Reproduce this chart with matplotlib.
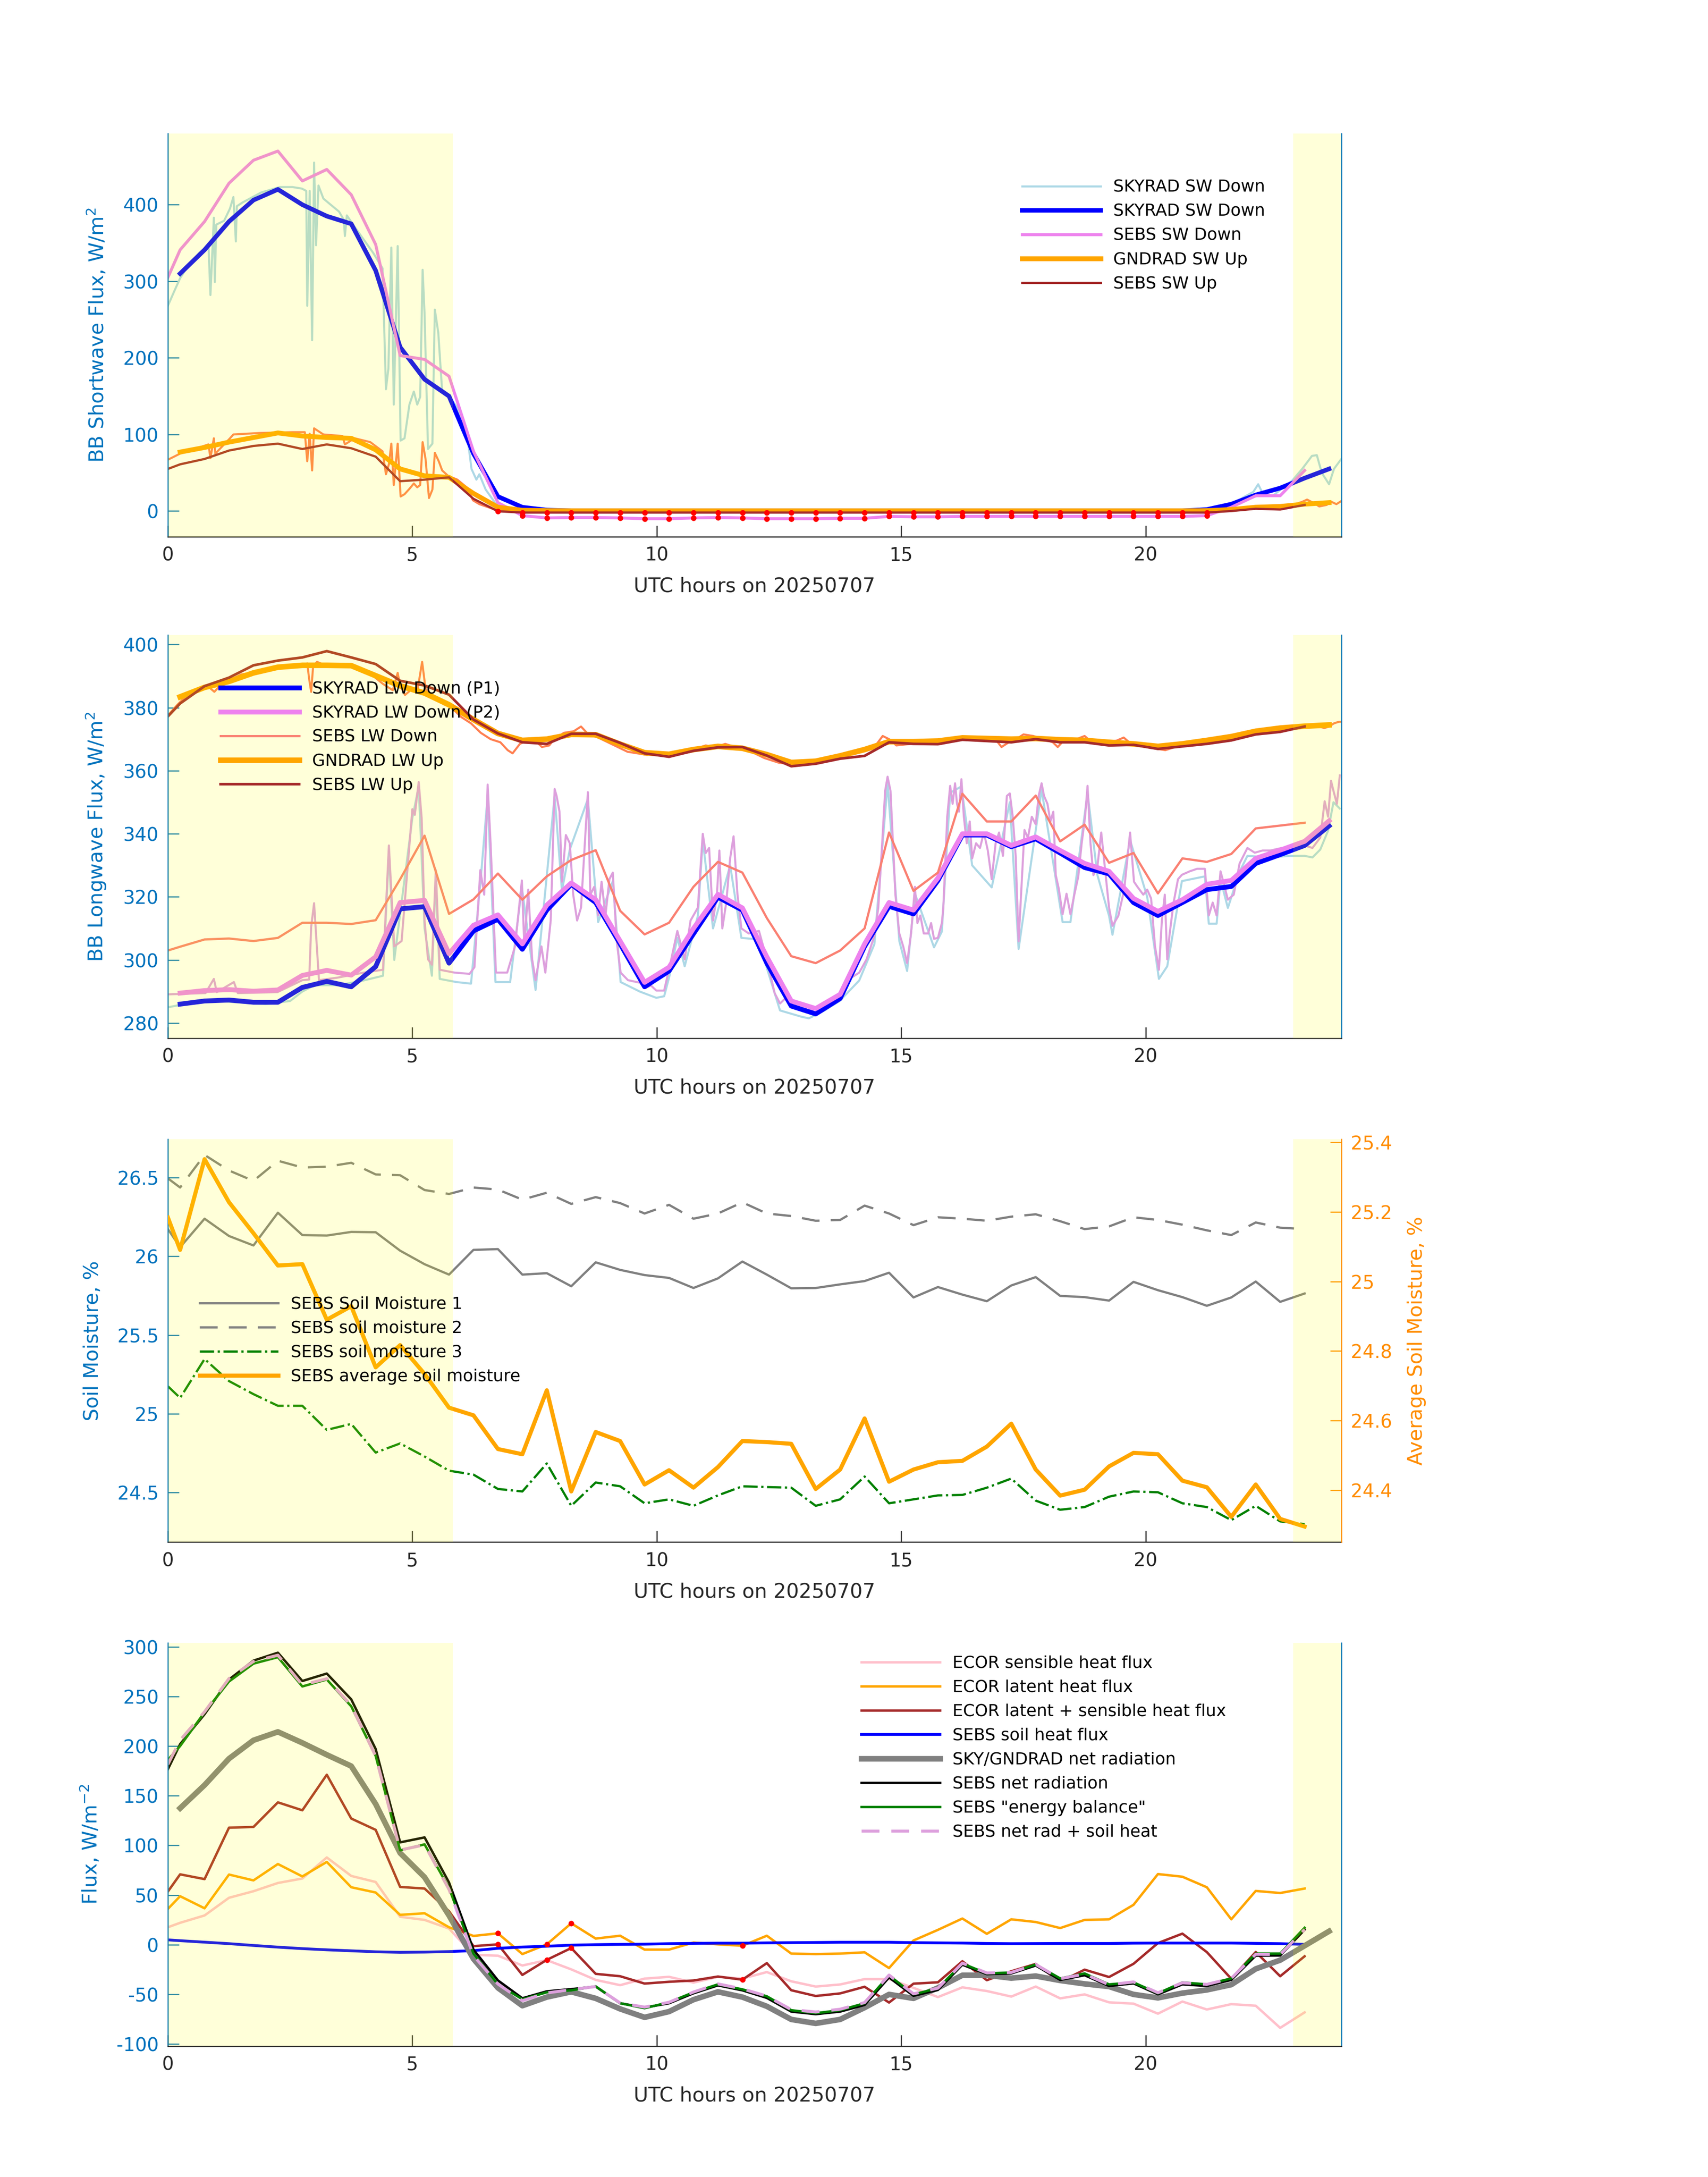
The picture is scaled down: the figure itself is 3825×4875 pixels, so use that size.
import numpy as np
import matplotlib
matplotlib.use('Agg')
from matplotlib import pyplot as plt
from matplotlib.ticker import FuncFormatter

plt.rcParams['font.family'] = ['DejaVu Sans']

blue_c = '#0072BD'
axis_orange = '#FF8C00'
text_c = '#262626'

# half-hour time grids (UTC hours)
sky_t = np.arange(0.25, 24.0, 0.5)                             # SKYRAD / GNDRAD averages
sebs_t = np.concatenate(([0.0], np.arange(0.25, 23.5, 0.5)))  # SEBS / ECOR

# daylight shading
day_spans = [(0.0, 5.83), (23.02, 24.0)]

# ---------------- panel 1: shortwave ----------------
sky_sw_dn = [310, 341, 378, 406, 420, 400, 385, 375, 314, 214, 172, 150,
             75, 19, 5, 1.3, 0.3, 0.3, 0.3, 0.3, 0.3, 0.3, 0.3, 0.3,
             0.3, 0.3, 0.3, 0.3, 0.3, 0.3, 0.3, 0.3, 0.3, 0.3, 0.3, 0.3,
             0.3, 0.3, 0.3, 0.3, 0.3, 0.3, 2, 9, 21, 30, 43, 55]
gnd_sw_up = [77, 83, 90, 96, 102, 98, 96, 95, 80, 55, 46, 44,
             23, 5, 1, 0.5, 0.3, 0.3, 0.3, 0.3, 0.3, 0.3, 0.3, 0.3,
             0.3, 0.3, 0.3, 0.3, 0.3, 0.3, 0.3, 0.3, 0.3, 0.3, 0.3, 0.3,
             0.3, 0.3, 0.3, 0.3, 0.3, 0.3, 0.5, 2, 5, 6, 9, 11]
sebs_sw_dn = [305, 341, 378, 428, 458, 470, 431, 446, 413, 348, 203, 198, 176,
              78, 11, -6, -9, -8.5, -8.5, -9, -10, -10, -9, -8.5, -9,
              -10, -10, -10, -9.5, -9.5, -7, -7.5, -7.5, -7, -7, -7, -7,
              -7, -7, -7, -7, -7, -7, -6, 5, 20, 20, 53]
sebs_sw_up = [55, 61, 68, 79, 85, 88, 81, 87, 82, 71, 39, 41, 44,
              16, -0.3, -2, -2, -2, -2, -2, -2, -2, -2, -2, -2,
              -2, -2, -2, -2, -2, -2, -2, -2, -2, -2, -2, -2,
              -2, -2, -2, -2, -2, -2, -2, 0, 3, 2, 8]

# one-minute-ish SKYRAD SW down and GNDRAD SW up
sw_dn_hr_t = [0.00, 0.13, 0.25, 0.38, 0.64, 0.83, 0.87, 0.94, 0.96, 0.99, 1.15, 1.27, 1.34, 1.39,
              1.41, 1.53, 1.91, 2.29, 2.55, 2.74, 2.83, 2.85, 2.90, 2.95, 2.99, 3.03, 3.08, 3.18,
              3.31, 3.50, 3.60, 3.62, 3.66, 3.82, 4.01, 4.20, 4.39, 4.46, 4.51, 4.57, 4.62, 4.70,
              4.76, 4.84, 4.94, 5.03, 5.10, 5.16, 5.21, 5.25, 5.32, 5.41, 5.46, 5.53, 5.61, 5.73,
              5.92, 6.11, 6.21, 6.31, 6.37, 6.50, 6.69, 7.01, 7.32, 7.60, 21.20, 21.50, 21.80,
              22.00, 22.20, 22.30, 22.40, 22.60, 22.80, 23.00, 23.20, 23.40, 23.50, 23.60, 23.75,
              23.85, 24.00]
sw_dn_hr = [268, 287, 304, 317, 337, 347, 282, 383, 299, 374, 379, 395, 410, 352,
            398, 403, 416, 423, 423, 421, 418, 268, 418, 223, 455, 347, 425, 408,
            401, 391, 380, 359, 386, 371, 354, 337, 317, 159, 186, 344, 139, 346,
            92, 95, 139, 156, 139, 149, 315, 257, 81, 88, 263, 233, 156, 152,
            135, 105, 55, 41, 48, 28, 11, 4, 1, 0, 0, 3, 10,
            18, 25, 35, 22, 20, 30, 40, 55, 72, 73, 50, 35,
            55, 68]
sw_up_hr_t = [0.00, 0.25, 0.64, 0.83, 0.87, 0.94, 0.97, 1.27, 1.34, 1.90, 2.55, 2.80, 2.85, 2.90,
              2.95, 2.99, 3.18, 3.57, 3.62, 3.82, 4.14, 4.39, 4.46, 4.52, 4.57, 4.62, 4.70, 4.76,
              4.84, 4.94, 5.03, 5.10, 5.16, 5.21, 5.27, 5.34, 5.41, 5.46, 5.54, 5.61, 5.73, 5.92,
              6.11, 6.24, 6.37, 6.69, 7.00, 21.50, 22.00, 22.50, 23.00, 23.20, 23.30, 23.45,
              23.55, 23.70, 23.80, 23.90, 24.00]
sw_up_hr = [67, 75, 83, 87, 69, 95, 75, 95, 100, 102, 103, 103, 65, 101,
            53, 108, 100, 98, 87, 95, 90, 78, 48, 61, 88, 34, 88, 19,
            22, 29, 36, 31, 34, 90, 68, 17, 28, 76, 65, 53, 46, 41,
            31, 14, 9, 2, 0.5, 0.5, 3, 6, 8, 12, 15, 10,
            6, 8, 12, 9, 13]

# ---------------- panel 2: longwave ----------------
sky_lw_p1 = [286.0, 287.0, 287.3, 286.6, 286.6, 291.3, 293.2, 291.5, 297.9, 316.2, 316.9, 299.0,
             309.2, 312.9, 303.4, 315.8, 324.0, 318.2, 305.1, 291.5, 296.5, 308.3, 319.9, 315.8,
             299.0, 285.4, 282.9, 287.8, 304.3, 317.0, 314.6, 325.2, 339.6, 339.6, 335.9, 338.4,
             333.9, 329.3, 327.3, 318.2, 314.1, 318.2, 322.3, 323.3, 330.6, 333.4, 336.3, 342.5]
sky_lw_p2 = [289.5, 290.3, 290.6, 290.1, 290.5, 295.1, 296.7, 295.2, 301.0, 318.2, 318.9, 302.0,
             311.0, 314.3, 305.1, 317.4, 324.4, 319.1, 306.0, 292.9, 297.7, 310.0, 320.8, 316.5,
             301.0, 287.0, 284.6, 289.1, 305.1, 318.2, 315.8, 326.0, 340.0, 340.0, 336.3, 339.0,
             334.7, 330.6, 328.1, 319.5, 315.4, 319.1, 324.0, 325.2, 332.2, 334.8, 337.6, 344.1]
gnd_lw_up = [383.4, 386.4, 388.3, 391.0, 392.8, 393.4, 393.4, 393.3, 390.1, 386.9, 384.6, 380.9,
             376.2, 371.8, 369.6, 370.0, 371.5, 371.4, 368.4, 365.7, 365.2, 366.7, 367.7, 367.1,
             365.1, 362.6, 363.0, 364.7, 366.7, 369.2, 369.2, 369.4, 370.4, 370.2, 370.0, 370.2,
             369.8, 369.6, 369.0, 368.5, 367.7, 368.5, 369.6, 370.8, 372.5, 373.5, 374.1, 374.5]
sebs_lw_dn = [303.0, 304.2, 306.5, 306.8, 306.0, 307.0, 311.8, 311.8, 311.4, 312.6, 325.6, 339.4, 314.6,
              319.2, 327.4, 319.1, 326.5, 331.7, 334.8, 315.6, 308.1, 311.8, 323.2, 331.1, 327.7,
              313.3, 301.2, 299.0, 303.0, 310.0, 340.4, 321.9, 327.7, 352.7, 343.9, 343.9, 352.1,
              337.6, 342.9, 330.8, 333.9, 321.1, 332.2, 331.1, 333.6, 341.7, 342.6, 343.5]
sebs_lw_up = [377.2, 381.3, 386.8, 389.5, 393.4, 394.9, 395.9, 397.9, 395.9, 393.8, 388.5, 387.0, 384.1,
              376.2, 371.8, 369.0, 368.5, 371.7, 371.7, 368.8, 365.5, 364.4, 366.3, 367.4, 367.5,
              364.8, 361.4, 362.2, 363.8, 364.7, 369.0, 368.5, 368.4, 369.8, 369.4, 369.0, 370.0,
              369.0, 369.0, 368.0, 368.2, 366.9, 367.7, 368.5, 369.6, 371.5, 372.3, 374.0]

# one-minute-ish SKYRAD LW down P2 (plum) as (hour, value)
lw_p2_hr = [(0.00, 289.1), (0.77, 289.5), (0.94, 294.0), (1.00, 289.8), (1.35, 293.0), (1.43, 289.5),
            (2.24, 289.8), (2.75, 293.6), (2.89, 293.8), (2.93, 310.4), (2.99, 318.0), (3.09, 293.6),
            (3.47, 294.4), (4.01, 296.0), (4.40, 296.9), (4.52, 336.3), (4.63, 304.3), (4.78, 306.0),
            (5.00, 347.8), (5.05, 346.0), (5.13, 356.4), (5.19, 345.0), (5.25, 312.5), (5.32, 300.2),
            (5.40, 298.5), (5.48, 328.5), (5.56, 296.9), (5.86, 296.0), (6.17, 295.6), (6.27, 297.7),
            (6.39, 328.5), (6.47, 320.7), (6.54, 355.6), (6.60, 337.0), (6.71, 296.0), (6.94, 296.0),
            (7.10, 304.3), (7.24, 325.2), (7.29, 304.3), (7.37, 322.3), (7.45, 300.2), (7.52, 293.6),
            (7.64, 304.3), (7.72, 296.0), (7.83, 312.5), (7.91, 354.2), (7.95, 352.0), (8.01, 347.0),
            (8.06, 324.8), (8.14, 339.6), (8.22, 337.0), (8.29, 320.7), (8.37, 312.5), (8.45, 316.6),
            (8.59, 353.2), (8.64, 320.7), (8.72, 323.2), (8.80, 314.1), (8.87, 324.8), (8.95, 314.1),
            (9.03, 325.6), (9.10, 327.7), (9.18, 305.9), (9.26, 296.0), (9.41, 293.6), (9.65, 292.8),
            (9.76, 291.1), (9.88, 291.9), (9.99, 290.3), (10.15, 290.3), (10.26, 297.7), (10.42, 309.2),
            (10.57, 300.2), (10.69, 312.5), (10.84, 316.6), (10.94, 340.0), (11.00, 333.9), (11.07, 335.5),
            (11.15, 312.5), (11.23, 320.7), (11.28, 334.7), (11.34, 310.0), (11.42, 318.2), (11.50, 332.2),
            (11.57, 339.2), (11.65, 320.7), (11.73, 310.0), (11.88, 308.4), (12.09, 309.2), (12.25, 300.2),
            (12.41, 289.5), (12.52, 286.2), (12.64, 288.0), (12.80, 286.2), (12.96, 284.1), (13.11, 283.7),
            (13.27, 284.9), (13.43, 286.2), (13.58, 288.0), (13.74, 289.5), (13.90, 293.6), (14.14, 296.0),
            (14.29, 300.2), (14.45, 307.6), (14.53, 316.6), (14.61, 337.0), (14.67, 353.6), (14.72, 358.1),
            (14.78, 353.6), (14.83, 337.0), (14.88, 320.7), (14.96, 308.4), (15.04, 304.3), (15.12, 299.0),
            (15.20, 308.4), (15.28, 323.2), (15.33, 311.7), (15.39, 314.1), (15.46, 308.4), (15.55, 308.4),
            (15.61, 311.7), (15.67, 306.7), (15.75, 307.0), (15.83, 311.7), (15.86, 316.6), (15.94, 345.4),
            (16.00, 355.2), (16.05, 349.5), (16.10, 356.0), (16.14, 349.5), (16.18, 347.0), (16.23, 357.3),
            (16.28, 345.4), (16.34, 337.0), (16.40, 343.9), (16.45, 332.2), (16.53, 337.0), (16.61, 335.5),
            (16.69, 340.4), (16.77, 334.7), (16.85, 325.6), (16.93, 337.0), (17.00, 340.4), (17.08, 333.0),
            (17.16, 352.0), (17.22, 352.8), (17.28, 345.4), (17.34, 333.0), (17.40, 305.9), (17.45, 320.7),
            (17.52, 341.2), (17.59, 338.7), (17.67, 345.4), (17.75, 343.0), (17.81, 352.0), (17.87, 356.0),
            (17.92, 352.0), (17.99, 349.5), (18.05, 343.9), (18.11, 347.0), (18.16, 326.9), (18.22, 322.7),
            (18.30, 314.5), (18.38, 321.0), (18.46, 314.5), (18.54, 320.7), (18.62, 326.4), (18.69, 337.0),
            (18.76, 345.4), (18.81, 355.2), (18.87, 337.0), (18.93, 326.9), (19.01, 329.4), (19.09, 340.4),
            (19.17, 328.5), (19.25, 316.6), (19.32, 310.8), (19.44, 314.0), (19.56, 322.3), (19.68, 340.4),
            (19.76, 324.8), (19.83, 323.2), (19.95, 320.7), (20.03, 322.3), (20.11, 319.5), (20.19, 304.3),
            (20.27, 296.9), (20.33, 312.5), (20.39, 320.7), (20.44, 300.2), (20.49, 308.4), (20.57, 318.2),
            (20.66, 325.6), (20.74, 327.0), (20.90, 328.1), (21.05, 328.9), (21.21, 328.9), (21.29, 314.1),
            (21.37, 318.2), (21.45, 314.1), (21.53, 328.1), (21.60, 324.0), (21.68, 319.1), (21.80, 320.7),
            (21.92, 330.6), (22.08, 335.5), (22.23, 334.0), (22.39, 334.7), (22.55, 334.7), (22.78, 335.5),
            (22.94, 335.5), (23.10, 337.0), (23.25, 336.3), (23.41, 335.5), (23.57, 338.8), (23.66, 350.3),
            (23.73, 345.4), (23.79, 356.8), (23.84, 353.6), (23.91, 349.5), (23.97, 358.5)]

# one-minute-ish SKYRAD LW down P1 (light blue)
lw_p1_hr = [(0.00, 285.0), (0.50, 286.5), (1.00, 287.0), (1.50, 286.5), (2.00, 286.0), (2.50, 287.0),
            (2.75, 290.0), (3.00, 292.0), (3.50, 292.0), (4.00, 293.5), (4.40, 295.0), (4.52, 334.0),
            (4.63, 300.0), (5.00, 345.0), (5.13, 355.0), (5.25, 310.0), (5.40, 295.0), (5.48, 326.0),
            (5.56, 294.0), (5.90, 293.0), (6.20, 292.5), (6.40, 326.0), (6.54, 352.0), (6.70, 293.0),
            (7.00, 293.0), (7.24, 323.0), (7.52, 290.5), (7.91, 352.0), (8.06, 322.0), (8.22, 335.0),
            (8.59, 351.0), (8.80, 312.0), (9.10, 325.0), (9.26, 293.0), (9.65, 290.0), (9.99, 288.0),
            (10.15, 288.5), (10.26, 295.0), (10.42, 307.0), (10.57, 298.0), (10.84, 314.0), (10.94, 338.0),
            (11.15, 310.0), (11.50, 330.0), (11.73, 307.0), (12.09, 306.5), (12.25, 297.5), (12.52, 284.0),
            (12.96, 282.0), (13.11, 281.5), (13.43, 284.0), (13.74, 287.0), (14.14, 293.5), (14.45, 305.0),
            (14.72, 356.0), (14.96, 306.0), (15.12, 296.5), (15.28, 321.0), (15.67, 304.0), (15.83, 309.0),
            (16.00, 353.0), (16.23, 355.0), (16.45, 330.0), (16.85, 323.0), (17.22, 350.0), (17.40, 303.5),
            (17.87, 354.0), (18.30, 312.0), (18.46, 312.0), (18.81, 353.0), (19.01, 327.0), (19.25, 314.0),
            (19.32, 308.0), (19.68, 338.0), (20.03, 320.0), (20.27, 294.0), (20.44, 298.0), (20.74, 325.0),
            (21.21, 326.5), (21.29, 311.5), (21.45, 311.5), (21.53, 325.5), (21.68, 316.5), (21.92, 328.0),
            (22.08, 333.0), (22.55, 332.5), (22.94, 333.0), (23.25, 333.0), (23.41, 332.5), (23.57, 335.0),
            (23.73, 341.0), (23.84, 350.0), (23.97, 348.0)]

# one-minute-ish GNDRAD LW up (coral)
lw_up_hr = [(0.0, 377.5), (0.2, 381.0), (0.4, 384.0), (0.6, 385.5), (0.8, 387.0), (0.95, 385.0),
            (1.1, 387.5), (1.3, 389.0), (1.5, 390.5), (1.7, 391.0), (1.9, 392.0), (2.1, 392.5),
            (2.3, 392.5), (2.5, 393.5), (2.7, 393.0), (2.85, 394.0), (2.89, 389.0), (2.93, 385.0),
            (2.97, 393.0), (3.05, 394.5), (3.2, 393.5), (3.4, 393.0), (3.6, 393.5), (3.8, 393.0),
            (4.0, 392.0), (4.2, 390.0), (4.4, 387.5), (4.6, 385.5), (4.7, 391.0), (4.75, 387.0),
            (4.85, 384.0), (5.0, 386.0), (5.1, 385.0), (5.2, 394.5), (5.27, 386.0), (5.35, 384.0),
            (5.45, 383.0), (5.55, 382.5), (5.65, 381.0), (5.8, 380.0), (6.0, 377.0), (6.2, 375.0),
            (6.4, 372.0), (6.6, 370.0), (6.8, 369.0), (6.95, 366.5), (7.05, 365.5), (7.2, 368.5),
            (7.4, 370.0), (7.55, 369.0), (7.65, 367.5), (7.8, 368.0), (7.9, 370.0), (8.1, 372.0),
            (8.3, 372.5), (8.45, 374.0), (8.6, 371.5), (8.8, 370.5), (9.0, 369.0), (9.2, 367.5),
            (9.4, 366.0), (9.6, 365.5), (9.8, 365.0), (10.0, 365.5), (10.2, 365.0), (10.5, 365.5),
            (10.7, 366.5), (10.9, 367.5), (11.0, 368.0), (11.2, 367.5), (11.4, 368.5), (11.6, 367.5),
            (11.8, 366.5), (12.0, 365.5), (12.2, 364.0), (12.5, 362.5), (12.8, 362.0), (13.0, 362.5),
            (13.3, 363.0), (13.6, 364.5), (13.9, 365.5), (14.2, 366.0), (14.5, 368.5), (14.62, 371.0),
            (14.75, 370.0), (14.9, 368.0), (15.2, 368.5), (15.5, 369.0), (15.8, 369.5), (16.1, 370.0),
            (16.4, 370.5), (16.6, 370.0), (16.9, 370.5), (17.05, 367.5), (17.2, 369.0), (17.4, 370.5),
            (17.5, 371.5), (17.7, 371.0), (17.9, 370.0), (18.1, 369.0), (18.2, 367.5), (18.35, 370.0),
            (18.5, 369.5), (18.75, 371.0), (18.9, 369.0), (19.1, 369.0), (19.4, 369.5), (19.55, 370.5),
            (19.7, 368.5), (20.0, 367.5), (20.2, 367.0), (20.4, 366.5), (20.6, 367.5), (20.8, 368.5),
            (21.1, 369.0), (21.4, 370.0), (21.7, 370.8), (22.0, 371.5), (22.3, 372.5), (22.6, 373.3),
            (22.9, 374.0), (23.2, 374.3), (23.5, 374.3), (23.65, 373.5), (23.75, 374.0), (23.85, 375.0),
            (23.95, 375.5), (24.0, 375.5)]

# ---------------- panel 3: soil moisture ----------------
soil_m1 = [26.173, 26.058, 26.239, 26.129, 26.069, 26.277, 26.135, 26.132, 26.155, 26.153, 26.036, 25.950,
           25.884, 26.041, 26.046, 25.884, 25.893, 25.810, 25.962, 25.914, 25.881, 25.863, 25.799, 25.860,
           25.967, 25.884, 25.797, 25.799, 25.822, 25.843, 25.896, 25.739, 25.805, 25.757, 25.715, 25.815,
           25.868, 25.749, 25.741, 25.719, 25.838, 25.785, 25.741, 25.686, 25.739, 25.840, 25.711, 25.764]
soil_m2 = [26.495, 26.437, 26.644, 26.545, 26.479, 26.607, 26.564, 26.569, 26.594, 26.520, 26.515, 26.421,
           26.396, 26.437, 26.424, 26.360, 26.404, 26.333, 26.376, 26.338, 26.272, 26.327, 26.239, 26.272,
           26.343, 26.272, 26.256, 26.226, 26.231, 26.322, 26.272, 26.198, 26.248, 26.239, 26.226, 26.252,
           26.267, 26.223, 26.173, 26.190, 26.248, 26.231, 26.201, 26.165, 26.135, 26.215, 26.182, 26.173]
soil_m3 = [25.175, 25.101, 25.348, 25.208, 25.125, 25.051, 25.051, 24.898, 24.936, 24.754, 24.812, 24.729,
           24.639, 24.614, 24.523, 24.507, 24.685, 24.416, 24.564, 24.540, 24.432, 24.457, 24.416, 24.482,
           24.540, 24.535, 24.531, 24.416, 24.457, 24.602, 24.432, 24.457, 24.482, 24.485, 24.531, 24.589,
           24.449, 24.391, 24.408, 24.474, 24.507, 24.502, 24.432, 24.408, 24.325, 24.416, 24.317, 24.300]
soil_avg = [25.184, 25.091, 25.352, 25.228, 25.139, 25.046, 25.050, 24.890, 24.929, 24.753, 24.817, 24.734,
            24.637, 24.615, 24.518, 24.503, 24.687, 24.396, 24.567, 24.541, 24.416, 24.457, 24.407, 24.466,
            24.541, 24.538, 24.533, 24.403, 24.459, 24.606, 24.424, 24.459, 24.480, 24.484, 24.525, 24.591,
            24.459, 24.384, 24.401, 24.468, 24.507, 24.503, 24.427, 24.408, 24.323, 24.416, 24.317, 24.295]

# ---------------- panel 4: surface energy fluxes ----------------
ecor_sh = [17.5, 22.0, 29.4, 47.2, 53.8, 62.1, 66.6, 87.8, 69.2, 63.1, 28.1, 24.9, 16.2,
           -10.3, -11.1, -21.0, -15.6, -24.9, -35.5, -40.8, -34.2, -32.4, -38.2, -32.4, -34.2,
           -27.6, -36.9, -42.2, -40.1, -34.7, -34.7, -43.5, -52.8, -43.0, -46.7, -52.3, -42.2,
           -54.1, -50.1, -58.1, -59.4, -69.5, -57.3, -65.3, -59.9, -61.5, -83.8, -68.2]
ecor_lh = [36.0, 48.8, 36.6, 70.6, 64.7, 81.2, 68.7, 83.3, 57.8, 52.5, 30.0, 31.6, 17.5,
           8.8, 11.4, -9.5, 0.3, 21.5, 6.1, 9.0, -5.0, -5.0, 2.1, 0.3, -1.1,
           9.0, -9.0, -9.5, -9.0, -7.7, -23.6, 4.2, 14.9, 26.3, 10.9, 25.5, 22.8,
           16.7, 24.9, 25.5, 40.1, 71.1, 68.4, 57.8, 25.5, 54.1, 52.0, 56.5]
sebs_g = [4.8, 4.0, 2.5, 1.0, -0.8, -2.5, -4.0, -5.2, -6.2, -7.2, -7.7, -7.5, -7.0,
          -6.0, -3.7, -2.4, -1.6, -0.5, 0.0, 0.3, 0.5, 1.0, 1.3, 1.5, 1.5,
          1.8, 2.0, 2.2, 2.4, 2.4, 2.4, 2.0, 1.8, 1.6, 1.2, 1.0, 1.1,
          1.2, 1.2, 1.2, 1.5, 1.6, 1.6, 1.6, 1.6, 1.3, 1.0, 0.3]
sky_gnd_net = [137.4, 160.7, 187.3, 205.8, 214.3, 203.2, 191.2, 179.8, 141.6, 92.3, 67.9, 29.4,
               -14.3, -43.5, -61.5, -52.8, -47.5, -54.1, -64.7, -73.2, -67.4, -55.4, -47.5, -52.8,
               -62.1, -75.3, -79.3, -75.3, -63.4, -50.1, -54.1, -43.5, -30.8, -30.8, -33.7, -31.6,
               -36.1, -39.5, -42.2, -50.1, -53.6, -48.8, -45.6, -40.3, -24.4, -15.6, -1.1, 13.5]
sebs_net = [176.7, 201.9, 232.0, 267.0, 286.0, 294.0, 265.5, 273.0, 247.0, 197.0, 103.0, 108.0, 62.6,
            -5.0, -36.0, -54.0, -47.0, -44.8, -42.2, -59.0, -63.4, -59.0, -49.0, -41.0, -46.0,
            -53.6, -67.4, -70.0, -67.4, -60.7, -33.0, -51.5, -45.6, -20.2, -29.7, -29.0, -21.0,
            -35.5, -30.8, -41.6, -39.0, -50.0, -40.0, -41.6, -35.5, -11.0, -10.9, 15.0]
sebs_ebal = [186.0, 200.0, 234.0, 265.0, 283.0, 289.5, 260.0, 267.0, 240.0, 190.0, 95.0, 101.0, 57.0,
             -9.0, -40.0, -55.0, -48.0, -46.0, -42.0, -59.0, -64.0, -58.0, -48.0, -40.0, -45.0,
             -52.0, -66.0, -69.0, -66.0, -59.0, -31.0, -50.0, -44.0, -19.0, -29.0, -28.0, -20.0,
             -34.0, -29.0, -40.0, -38.0, -49.0, -38.0, -40.0, -34.0, -9.0, -9.0, 17.0]
ecor_flag_t = [6.75, 7.75, 8.25, 11.75]

lw_p2_hr = np.array(lw_p2_hr)
lw_p1_hr = np.array(lw_p1_hr)
lw_up_hr = np.array(lw_up_hr)
ecor_sum = np.array(ecor_lh) + np.array(ecor_sh)
sebs_net_g = np.array(sebs_net) + np.array(sebs_g)


def style_axes(ax, ylim, yticks, ylabel):
    ax.set_xlim(0, 24)
    ax.set_ylim(ylim)
    ax.set_xticks([0, 5, 10, 15, 20])
    ax.set_yticks(yticks)
    ax.yaxis.set_major_formatter(FuncFormatter(lambda v, p: f'{v:g}'))
    ax.tick_params(direction='in', length=6, width=0.6, labelsize=10, pad=5)
    ax.tick_params(axis='y', colors=blue_c)
    ax.tick_params(axis='x', colors=text_c)
    ax.spines['top'].set_visible(False)
    ax.spines['left'].set_color(blue_c)
    ax.spines['right'].set_color(blue_c)
    ax.spines['bottom'].set_color(text_c)
    for s in ax.spines.values():
        s.set_linewidth(0.6)
    ax.set_xlabel('UTC hours on 20250707', fontsize=10.75, color=text_c, labelpad=6.5)
    ax.set_ylabel(ylabel, fontsize=10.75, color=blue_c, labelpad=8)


def shade_day(ax):
    for s, e in day_spans:
        ax.axvspan(s, e, color='yellow', alpha=0.15, lw=0, zorder=3)


def add_legend(ax, handles, labels, x, y):
    leg = ax.legend(handles, labels, loc='upper left', bbox_to_anchor=(x, y), frameon=False,
                    fontsize=9, handlelength=4.7, handletextpad=0.75, labelspacing=0.48,
                    borderpad=0, borderaxespad=0)
    leg.set_zorder(6)
    return leg


fig = plt.figure(figsize=(12.75, 16.25), dpi=300)
left, width, height = 0.0983, 0.687, 0.1852
ax1 = fig.add_axes([left, 0.7535, width, height])
ax2 = fig.add_axes([left, 0.5231, width, height])
ax3 = fig.add_axes([left, 0.2916, width, height])
ax4 = fig.add_axes([left, 0.0602, width, height])

# panel 1
ax1.plot(sw_dn_hr_t, sw_dn_hr, color='lightblue', lw=1.1, label='SKYRAD SW Down')
ax1.plot(sw_up_hr_t, sw_up_hr, color='coral', lw=1.1, label='_nolegend_')
ax1.plot(sky_t, sky_sw_dn, color='blue', lw=2.4, label='SKYRAD SW Down')
ax1.plot(sebs_t, sebs_sw_dn, color='violet', lw=1.6, label='SEBS SW Down')
ax1.plot(sky_t, gnd_sw_up, color='orange', lw=2.6, label='GNDRAD SW Up')
ax1.plot(sebs_t, sebs_sw_up, color='brown', lw=1.2, label='SEBS SW Up')
for arr in (sebs_sw_dn, sebs_sw_up):
    arr = np.array(arr)
    neg = arr < 0
    ax1.plot(sebs_t[neg], arr[neg], '.', color='red', ms=4, zorder=2.2)
shade_day(ax1)
style_axes(ax1, (-33.4, 493), [0, 100, 200, 300, 400], 'BB Shortwave Flux, W/m$^2$')
h, l = ax1.get_legend_handles_labels()
add_legend(ax1, h, l, 0.728, 0.886)

# panel 2
ax2.plot(lw_p1_hr[:, 0], lw_p1_hr[:, 1], color='lightblue', lw=1.1)
ax2.plot(lw_p2_hr[:, 0], lw_p2_hr[:, 1], color='plum', lw=1.1)
ax2.plot(lw_up_hr[:, 0], lw_up_hr[:, 1], color='coral', lw=1.1)
l_p1, = ax2.plot(sky_t, sky_lw_p1, color='blue', lw=2.6)
l_p2, = ax2.plot(sky_t, sky_lw_p2, color='violet', lw=2.6)
l_sd, = ax2.plot(sebs_t, sebs_lw_dn, color='salmon', lw=1.2)
l_gu, = ax2.plot(sky_t, gnd_lw_up, color='orange', lw=3.0)
l_su, = ax2.plot(sebs_t, sebs_lw_up, color='brown', lw=1.4)
shade_day(ax2)
style_axes(ax2, (275.2, 403), [280, 300, 320, 340, 360, 380, 400], 'BB Longwave Flux, W/m$^2$')
add_legend(ax2, [l_p1, l_p2, l_sd, l_gu, l_su],
           ['SKYRAD LW Down (P1)', 'SKYRAD LW Down (P2)', 'SEBS LW Down', 'GNDRAD LW Up', 'SEBS LW Up'],
           0.045, 0.886)

# panel 3
ax3r = ax3.twinx()
m1, = ax3.plot(sebs_t, soil_m1, color='gray', lw=1.2)
m2, = ax3.plot(sebs_t, soil_m2, color='gray', lw=1.2, dashes=(8, 5))
m3, = ax3.plot(sebs_t, soil_m3, color='green', lw=1.2, ls='-.')
ma, = ax3r.plot(sebs_t, soil_avg, color='orange', lw=2.2)
style_axes(ax3, (24.185, 26.745), [24.5, 25, 25.5, 26, 26.5], 'Soil Moisture, %')
ax3.spines['right'].set_visible(False)
ax3r.set_xlim(0, 24)
ax3r.set_ylim(24.25, 25.41)
ax3r.set_yticks([24.4, 24.6, 24.8, 25.0, 25.2, 25.4])
ax3r.yaxis.set_major_formatter(FuncFormatter(lambda v, p: f'{v:g}'))
ax3r.tick_params(axis='y', direction='in', length=6, width=0.6, labelsize=10, pad=5, colors=axis_orange)
for side in ('top', 'left', 'bottom'):
    ax3r.spines[side].set_visible(False)
ax3r.spines['right'].set_color(axis_orange)
ax3r.spines['right'].set_linewidth(0.6)
ax3r.set_ylabel('Average Soil Moisture, %', fontsize=10.75, color=axis_orange, labelpad=8)
shade_day(ax3r)
add_legend(ax3r, [m1, m2, m3, ma],
           ['SEBS Soil Moisture 1', 'SEBS soil moisture 2', 'SEBS soil moisture 3',
            'SEBS average soil moisture'], 0.027, 0.61)

# panel 4
f1, = ax4.plot(sebs_t, ecor_sh, color='pink', lw=1.3)
f2, = ax4.plot(sebs_t, ecor_lh, color='orange', lw=1.3)
f3, = ax4.plot(sebs_t, ecor_sum, color='brown', lw=1.3)
f4, = ax4.plot(sebs_t, sebs_g, color='blue', lw=1.5)
f5, = ax4.plot(sky_t, sky_gnd_net, color='gray', lw=3.0)
f6, = ax4.plot(sebs_t, sebs_net, color='black', lw=1.3)
f7, = ax4.plot(sebs_t, sebs_ebal, color='green', lw=1.3)
f8, = ax4.plot(sebs_t, sebs_net_g, color='plum', lw=1.6, dashes=(6, 4))
flag = np.isin(sebs_t, ecor_flag_t)
ax4.plot(sebs_t[flag], np.array(ecor_lh)[flag], '.', color='red', ms=4)
ax4.plot(sebs_t[flag], ecor_sum[flag], '.', color='red', ms=4)
shade_day(ax4)
style_axes(ax4, (-102, 304), [-100, -50, 0, 50, 100, 150, 200, 250, 300], 'Flux, W/m$^{-2}$')
add_legend(ax4, [f1, f2, f3, f4, f5, f6, f7, f8],
           ['ECOR sensible heat flux', 'ECOR latent heat flux', 'ECOR latent + sensible heat flux',
            'SEBS soil heat flux', 'SKY/GNDRAD net radiation', 'SEBS net radiation',
            'SEBS "energy balance"', 'SEBS net rad + soil heat'], 0.591, 0.969)

fig.savefig('out.png', dpi=300)
